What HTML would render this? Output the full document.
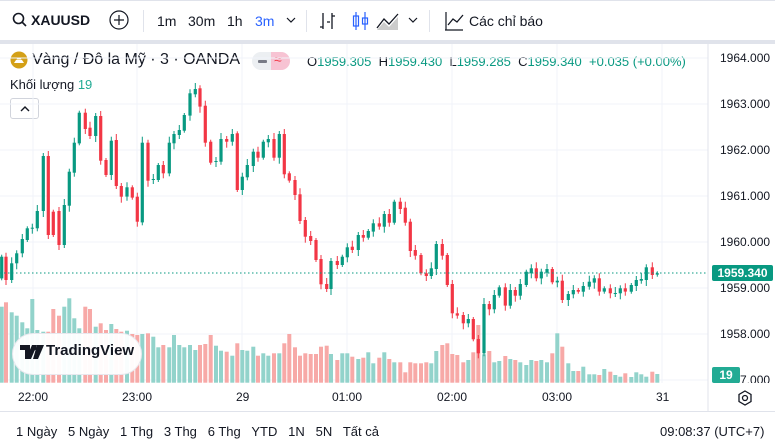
<!DOCTYPE html>
<html><head><meta charset="utf-8">
<style>
*{margin:0;padding:0;box-sizing:border-box}
body{width:775px;height:448px;overflow:hidden;background:#fff;font-family:"Liberation Sans",Arial,sans-serif;color:#131722;position:relative}
.t{position:absolute;white-space:nowrap}
</style></head><body>
<div style="position:absolute;left:0;top:0;width:775px;height:1px;background:#e0e3eb"></div>
<div style="position:absolute;left:0;top:40px;width:775px;height:4px;background:#e0e3eb"></div>
<!-- toolbar -->
<svg class="t" style="left:12px;top:12px" width="16" height="16"><circle cx="6.5" cy="6.5" r="5" fill="none" stroke="#131722" stroke-width="1.6"/><line x1="10" y1="10" x2="14" y2="14" stroke="#131722" stroke-width="1.6"/></svg>
<div class="t" style="left:31px;top:12px;font-size:14px;font-weight:bold">XAUUSD</div>
<svg class="t" style="left:109px;top:10px" width="20" height="20"><circle cx="10" cy="10" r="9" fill="none" stroke="#131722" stroke-width="1.2"/><path d="M10 5v10M5 10h10" stroke="#131722" stroke-width="1.2"/></svg>
<div class="t" style="left:143px;top:10px;width:1px;height:22px;background:#e0e3eb"></div>
<div class="t" style="left:157px;top:13px;font-size:14px">1m</div>
<div class="t" style="left:188px;top:13px;font-size:14px">30m</div>
<div class="t" style="left:227px;top:13px;font-size:14px">1h</div>
<div class="t" style="left:255px;top:13px;font-size:14px;color:#2962ff">3m</div>
<svg class="t" style="left:286px;top:16px" width="10" height="8"><path d="M1 2l4 4 4-4" fill="none" stroke="#131722" stroke-width="1.2"/></svg>
<div class="t" style="left:306px;top:10px;width:1px;height:22px;background:#e0e3eb"></div>
<svg class="t" style="left:318px;top:10px" width="22" height="22"><path d="M5 3v16M2 17h3M14 3v16M14 6h3M9 12h3" stroke="#131722" stroke-width="1.3" fill="none"/></svg>
<svg class="t" style="left:350px;top:10px" width="22" height="22"><path d="M6 2v18M15 2v18" stroke="#2962ff" stroke-width="1.2"/><rect x="3.5" y="6" width="5" height="10" fill="none" stroke="#2962ff" stroke-width="1.2"/><rect x="12.5" y="8" width="5" height="6" fill="none" stroke="#2962ff" stroke-width="1.2"/></svg>
<svg class="t" style="left:375px;top:10px" width="26" height="22"><path d="M2 18L9 9l5 5 9-10" fill="none" stroke="#131722" stroke-width="1.3"/><path d="M2 20L9 12l5 5 9-10v13H2z" fill="#ccc"/></svg>
<svg class="t" style="left:408px;top:16px" width="10" height="8"><path d="M1 2l4 4 4-4" fill="none" stroke="#131722" stroke-width="1.2"/></svg>
<div class="t" style="left:429px;top:10px;width:1px;height:22px;background:#e0e3eb"></div>
<svg class="t" style="left:443px;top:10px" width="22" height="22"><path d="M2 20h18M3 20V2" stroke="#131722" stroke-width="1.2" fill="none"/><path d="M5 15l5-6 4 3 6-7" stroke="#131722" stroke-width="1.3" fill="none"/></svg>
<div class="t" style="left:469px;top:13px;font-size:14px">Các chỉ báo</div>
<!-- legend -->
<svg class="t" style="left:10px;top:51px" width="18" height="18"><circle cx="9" cy="9" r="8.5" fill="#d4a017"/><path d="M4 12h10l-2-3H6z" fill="#fff"/><path d="M6.5 8.5h5l-1-2h-3z" fill="#fff"/></svg>
<div class="t" style="left:32px;top:51px;font-size:16px;color:#131722">Vàng / Đô la Mỹ · 3 · OANDA</div>
<div class="t" style="left:252px;top:52px;width:38px;height:18px;border-radius:9px;background:#eceff2;overflow:hidden"><div style="position:absolute;left:19px;top:0;width:19px;height:18px;background:#f7c3d3"></div><div style="position:absolute;left:6px;top:8px;width:9px;height:3px;background:#787b86;border-radius:1px"></div><div style="position:absolute;left:22px;top:-1px;font-size:14px;color:#f23645">≈</div></div>
<div class="t" style="left:307px;top:54px;font-size:13px;color:#131722">O<span style="color:#089981">1959.305</span>&nbsp; H<span style="color:#089981">1959.430</span>&nbsp; L<span style="color:#089981">1959.285</span>&nbsp; C<span style="color:#089981">1959.340</span>&nbsp; <span style="color:#089981">+0.035 (+0.00%)</span></div>
<div class="t" style="left:10px;top:77px;font-size:13px">Khối lượng <span style="color:#22ab94">19</span></div>
<div class="t" style="left:10px;top:98px;width:29px;height:21px;border:1px solid #d1d4dc;border-radius:3px;background:#fff"><svg style="position:absolute;left:8px;top:6px" width="12" height="8"><path d="M2 6l4-4 4 4" fill="none" stroke="#131722" stroke-width="1.4"/></svg></div>
<svg class="t" id="ch" style="left:0;top:0" width="775" height="448"></svg>
<div class="t" style="left:12px;top:333px;width:130px;height:42px;border-radius:21px;background:rgba(255,255,255,0.95);border:1px solid #e8e8ee"></div>
<svg class="t" style="left:20px;top:345px" width="24" height="14"><path d="M0 0h10v14H5V5H0z M12 0h5l-6 14H6z" fill="#131722"/><circle cx="14" cy="3" r="2.5" fill="#131722"/><path d="M17 0h7l-6 14h-5z" fill="#131722"/></svg>
<div class="t" style="left:46px;top:342px;font-size:15px;font-weight:bold;color:#131722">TradingView</div>
<!-- price axis -->
<div class="t" style="left:720px;top:51px;font-size:12px">1964.000</div>
<div class="t" style="left:720px;top:97px;font-size:12px">1963.000</div>
<div class="t" style="left:720px;top:143px;font-size:12px">1962.000</div>
<div class="t" style="left:720px;top:189px;font-size:12px">1961.000</div>
<div class="t" style="left:720px;top:235px;font-size:12px">1960.000</div>
<div class="t" style="left:720px;top:281px;font-size:12px">1959.000</div>
<div class="t" style="left:720px;top:327px;font-size:12px">1958.000</div>
<div class="t" style="left:720px;top:373px;font-size:12px;height:10px;overflow:hidden">1957.000</div>
<div class="t" style="left:712px;top:265px;width:61px;height:16px;background:#089981;color:#fff;font-size:12px;font-weight:bold;text-align:center;line-height:16px;border-radius:2px">1959.340</div>
<div class="t" style="left:712px;top:367px;width:28px;height:16px;background:#22ab94;color:#fff;font-size:12px;font-weight:bold;text-align:center;line-height:16px;border-radius:2px">19</div>
<!-- time axis -->
<div class="t" style="left:18px;top:390px;font-size:12px">22:00</div>
<div class="t" style="left:122px;top:390px;font-size:12px">23:00</div>
<div class="t" style="left:236px;top:390px;font-size:12px">29</div>
<div class="t" style="left:332px;top:390px;font-size:12px">01:00</div>
<div class="t" style="left:437px;top:390px;font-size:12px">02:00</div>
<div class="t" style="left:542px;top:390px;font-size:12px">03:00</div>
<div class="t" style="left:656px;top:390px;font-size:12px">31</div>
<svg class="t" style="left:736px;top:389px" width="18" height="18"><path d="M9 2l6 3.5v7L9 16l-6-3.5v-7z" fill="none" stroke="#131722" stroke-width="1.3"/><circle cx="9" cy="9" r="2.5" fill="none" stroke="#131722" stroke-width="1.3"/></svg>
<div class="t" style="left:0;top:411px;width:775px;height:1px;background:#e0e3eb"></div>
<div class="t" style="left:16px;top:424px;font-size:13px;word-spacing:0">1 Ngày&nbsp;&nbsp; 5 Ngày&nbsp;&nbsp; 1 Thg&nbsp;&nbsp; 3 Thg&nbsp;&nbsp; 6 Thg&nbsp;&nbsp; YTD&nbsp;&nbsp; 1N&nbsp;&nbsp; 5N&nbsp;&nbsp; Tất cả</div>
<div class="t" style="left:660px;top:424px;font-size:13px">09:08:37 (UTC+7)</div>
<script>
var A=[[5,'g',590,655],[18,'r',590,660],[35,'g',610,660],[50,'g',580,610],[67,'g',537,580],[82,'g',505,540],[97,'g',503,506],[112,'g',453,505],[130,'g',288,453],[145,'r',288,525],[160,'r',455,525],[177,'r',453,555],[193,'g',435,555],[208,'g',335,437],[223,'g',248,338],[238,'g',158,250],[256,'r',158,207],[270,'r',203,228],[287,'g',168,228],[302,'r',168,302],[318,'r',300,345],[334,'g',242,345],[349,'r',240,378],[364,'r',378,410],[381,'g',382,410],[397,'r',382,413],[412,'r',410,485],[427,'g',248,487],[444,'r',248,362],[460,'g',357,360],[475,'g',315,360],[490,'r',315,340],[508,'g',248,340],[522,'g',222,250],[538,'g',210,225],[553,'g',165,212],[570,'g',100,167],[586,'g',87,103],[600,'r',85,140],[616,'r',137,248],[632,'r',245,308],[648,'g',303,306],[663,'g',237,305],[680,'r',237,245],[697,'g',222,245],[712,'r',220,390],[727,'g',350,390],[742,'g',315,352],[760,'g',275,318],[774,'r',275,293],[790,'g',245,293],[805,'g',237,247],[822,'r',237,293],[838,'g',222,293],[853,'r',222,343],[868,'r',340,362],[885,'r',360,405],[900,'r',403,483],[916,'r',480,530],[932,'r',528,543],[948,'r',540,600],[963,'r',597,673],[980,'r',672,687]];
var B=[[3,'g',603,687],[22,'r',603,615],[37,'g',590,615],[52,'g',562,592],[67,'r',560,570],[85,'g',525,570],[100,'r',525,533],[115,'g',513,533],[130,'g',490,515],[148,'r',490,500],[163,'g',462,500],[178,'r',462,488],[193,'g',425,488],[211,'r',425,447],[226,'r',443,488],[241,'r',485,573],[256,'r',570,587],[273,'r',585,640],[289,'r',640,648],[304,'g',625,648],[319,'g',552,627],[337,'r',552,587],[352,'r',585,675],[367,'r',672,760],[382,'r',760,767],[400,'r',765,790],[415,'g',777,790],[430,'r',777,838],[445,'r',837,880],[462,'g',732,880],[478,'r',732,748],[493,'g',705,748],[508,'g',682,707],[526,'r',682,737],[541,'g',690,737],[556,'r',690,707],[571,'g',672,707],[589,'g',635,675],[604,'g',625,640],[619,'r',625,655],[634,'g',635,655],[651,'g',627,638],[667,'r',627,667],[682,'g',662,667],[697,'r',662,720],[715,'g',702,720],[730,'g',690,703],[745,'r',690,695],[760,'g',678,695],[778,'g',665,680],[793,'g',655,668],[808,'r',655,695],[823,'g',685,695],[841,'r',685,700],[856,'g',699,702],[871,'g',685,700],[886,'r',685,695],[904,'g',675,695],[919,'g',660,678],[934,'g',657,662],[949,'g',622,660],[967,'r',622,645],[982,'g',640,644]];
var VA=[740,727,757,767,787,805,717,810,815,815,747,767,740,715,775,805,740,747,800,790,810,792,807,815,812,822,825,822,820,830,862,855,862,825,855,862,855,870,855,852,825,857,872,875,887,850,870,872,860,887,880,887,880,880,850,822,862,887,880,882,882,860,857];
var VB=[882,900,880,880,890,897,893,877,910,893,877,897,907,907,937,907,910,910,907,910,873,855,850,882,885,907,900,877,795,883,873,907,903,888,897,900,907,915,900,903,900,907,880,820,860,910,933,933,920,943,943,945,927,935,945,950,940,951,937,943,950,935,942,960];
var s='';
// grid
[58,104,150,196,242,288,334,380].forEach(function(y){s+='<line x1="0" x2="708" y1="'+y+'" y2="'+y+'" stroke="#f0f3fa"/>';});
[33,137,242,347,452,557,662].forEach(function(x){s+='<line x1="'+x+'" x2="'+x+'" y1="44" y2="383" stroke="#f0f3fa"/>';});
var C=[];
A.forEach(function(c,i){C.push({x:c[0]/3,g:c[1]=='g',t:60+c[2]/3,b:60+c[3]/3,v:60+(VA[i]||900)/3});});
B.forEach(function(c,i){C.push({x:330+c[0]/3,g:c[1]=='g',t:60+c[2]/3,b:60+c[3]/3,v:60+(VB[i]||940)/3});});
var vb='',cb='';
C.forEach(function(c,i){
 var col=c.g?'#089981':'#f23645',vc=c.g?'#92d3cb':'#f7a9a7';
 vb+='<rect x="'+(c.x-2).toFixed(1)+'" y="'+c.v.toFixed(1)+'" width="4" height="'+(382.7-c.v).toFixed(1)+'" fill="'+vc+'"/>';
 var w1=2+((i*7)%5),w2=2+((i*3)%5);
 cb+='<line x1="'+c.x.toFixed(1)+'" x2="'+c.x.toFixed(1)+'" y1="'+(c.t-w1).toFixed(1)+'" y2="'+(c.b+w2).toFixed(1)+'" stroke="'+col+'"/>';
 cb+='<rect x="'+(c.x-1.6).toFixed(1)+'" y="'+c.t.toFixed(1)+'" width="3.2" height="'+Math.max(1,c.b-c.t).toFixed(1)+'" fill="'+col+'"/>';
});
s+=vb+cb;
s+='<line x1="0" x2="708" y1="273" y2="273" stroke="#089981" stroke-dasharray="1.5,2.5"/>';
s+='<line x1="708" x2="708" y1="44" y2="411" stroke="#e0e3eb"/>';
document.getElementById('ch').innerHTML=s;
</script>
</body></html>
